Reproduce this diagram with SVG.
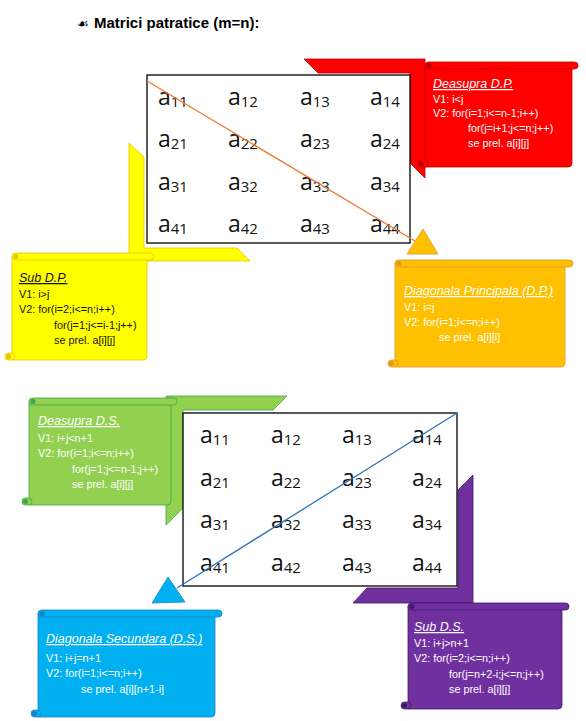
<svg xmlns="http://www.w3.org/2000/svg" width="586" height="721" viewBox="0 0 586 721">
<style>
.m{font-family:"Open Sans","Liberation Sans",sans-serif;font-size:23px;fill:#111}
.s{font-size:15px}
.t{font-family:"Liberation Sans",Arial,sans-serif;font-size:12.5px;font-style:italic;text-decoration:underline}
.b{font-family:"Liberation Sans",Arial,sans-serif;font-size:10.8px}
.w{fill:#fff}
.k{fill:#111}
.grid{fill:#fff;stroke:#000;stroke-width:1.3}
</style>
<rect width="586" height="721" fill="#fff"/>
<text x="77" y="28" font-family="DejaVu Sans,sans-serif" font-size="13" fill="#000">☙</text>
<text x="94" y="28" font-family="Liberation Sans,Arial,sans-serif" font-size="15" font-weight="bold" fill="#000">Matrici patratice (m=n):</text>

<!-- Red: Deasupra D.P. -->
<g id="red">
<polygon points="304,59 425,59 425,178 410,163 410,73 318,73" fill="#ff0000" stroke="#c00000" stroke-width="0.8"/>
<path d="M425,65 H572 V163 Q572,167 568,167 H425 Z" fill="#ff0000" stroke="#c00000" stroke-width="0.8"/>
<rect x="425" y="62" width="153" height="7" rx="3.5" fill="#ff0000" stroke="#c00000" stroke-width="0.8"/>
<circle cx="429" cy="65.5" r="2.5" fill="#c00000"/>
<rect x="418" y="160" width="10" height="7" rx="3.5" fill="#ff0000" stroke="#c00000" stroke-width="0.8"/>
<circle cx="421.5" cy="163.5" r="2.5" fill="#c00000"/>
<text class="t w" x="433" y="88">Deasupra D.P.</text>
<text class="b w" x="433" y="103">V1: i&lt;j</text>
<text class="b w" x="433" y="117">V2: for(i=1;i&lt;=n-1;i++)</text>
<text class="b w" x="468" y="132">for(j=i+1;j&lt;=n;j++)</text>
<text class="b w" x="468" y="147">se prel.  a[i][j]</text>
</g>

<!-- Yellow: Sub D.P. -->
<g id="yellow">
<polygon points="129,143 144,157 144,248 237,248 250,261 129,261" fill="#ffff00" stroke="#e8c000" stroke-width="0.8"/>
<path d="M12,256 H147 V356 Q147,360 143,360 H12 Z" fill="#ffff00" stroke="#e8c000" stroke-width="0.8"/>
<rect x="12" y="253" width="142" height="7" rx="3.5" fill="#ffff00" stroke="#e8c000" stroke-width="0.8"/>
<circle cx="16" cy="256.5" r="2.5" fill="#e8c000"/>
<rect x="5" y="353" width="10" height="7" rx="3.5" fill="#ffff00" stroke="#e8c000" stroke-width="0.8"/>
<circle cx="8.5" cy="356.5" r="2.5" fill="#e8c000"/>
<text class="t k" x="19" y="282">Sub D.P.</text>
<text class="b k" x="19" y="298">V1: i&gt;j</text>
<text class="b k" x="19" y="313">V2: for(i=2;i&lt;=n;i++)</text>
<text class="b k" x="54" y="329">for(j=1;j&lt;=i-1;j++)</text>
<text class="b k" x="54" y="344">se prel.  a[i][j]</text>
</g>

<!-- Matrix 1 -->
<g id="matrix1">
<rect class="grid" x="147" y="75" width="263" height="168"/>
<text class="m" x="158" y="105">a<tspan class="s" dy="2">11</tspan></text>
<text class="m" x="228" y="105">a<tspan class="s" dy="2">12</tspan></text>
<text class="m" x="300" y="105">a<tspan class="s" dy="2">13</tspan></text>
<text class="m" x="370" y="105">a<tspan class="s" dy="2">14</tspan></text>
<text class="m" x="158" y="147">a<tspan class="s" dy="2">21</tspan></text>
<text class="m" x="228" y="147">a<tspan class="s" dy="2">22</tspan></text>
<text class="m" x="300" y="147">a<tspan class="s" dy="2">23</tspan></text>
<text class="m" x="370" y="147">a<tspan class="s" dy="2">24</tspan></text>
<text class="m" x="158" y="190">a<tspan class="s" dy="2">31</tspan></text>
<text class="m" x="228" y="190">a<tspan class="s" dy="2">32</tspan></text>
<text class="m" x="300" y="190">a<tspan class="s" dy="2">33</tspan></text>
<text class="m" x="370" y="190">a<tspan class="s" dy="2">34</tspan></text>
<text class="m" x="158" y="232">a<tspan class="s" dy="2">41</tspan></text>
<text class="m" x="228" y="232">a<tspan class="s" dy="2">42</tspan></text>
<text class="m" x="300" y="232">a<tspan class="s" dy="2">43</tspan></text>
<text class="m" x="370" y="232">a<tspan class="s" dy="2">44</tspan></text>
</g>

<!-- Orange: Diagonala Principala -->
<g id="orange">
<path d="M395,263 H565 V363 Q565,367 561,367 H395 Z" fill="#ffc000" stroke="#e0962a" stroke-width="0.8"/>
<rect x="395" y="260" width="178" height="7" rx="3.5" fill="#ffc000" stroke="#e0962a" stroke-width="0.8"/>
<circle cx="399" cy="263.5" r="2.5" fill="#e0962a"/>
<rect x="388" y="360" width="10" height="7" rx="3.5" fill="#ffc000" stroke="#e0962a" stroke-width="0.8"/>
<circle cx="391.5" cy="363.5" r="2.5" fill="#e0962a"/>
<text class="t w" x="404" y="295">Diagonala Principala (D.P.)</text>
<text class="b w" x="404" y="311">V1: i=j</text>
<text class="b w" x="404" y="326">V2: for(i=1;i&lt;=n;i++)</text>
<text class="b w" x="439" y="341">se prel.  a[i][i]</text>
</g>

<!-- Green: Deasupra D.S. -->
<g id="green">
<polygon points="166,396 287,396 273,410 183,410 183,508 166,525" fill="#92d050" stroke="#3ba64a" stroke-width="0.8"/>
<path d="M29,401 H171 V501 Q171,505 167,505 H29 Z" fill="#92d050" stroke="#3ba64a" stroke-width="0.8"/>
<rect x="29" y="398" width="148" height="7" rx="3.5" fill="#92d050" stroke="#3ba64a" stroke-width="0.8"/>
<circle cx="33" cy="401.5" r="2.5" fill="#3ba64a"/>
<rect x="22" y="498" width="10" height="7" rx="3.5" fill="#92d050" stroke="#3ba64a" stroke-width="0.8"/>
<circle cx="25.5" cy="501.5" r="2.5" fill="#3ba64a"/>
<text class="t w" x="38" y="425">Deasupra D.S.</text>
<text class="b w" x="38" y="442">V1: i+j&lt;n+1</text>
<text class="b w" x="38" y="457">V2: for(i=1;i&lt;=n;i++)</text>
<text class="b w" x="72" y="473">for(j=1;j&lt;=n-1;j++)</text>
<text class="b w" x="72" y="488">se prel.  a[i][j]</text>
</g>

<!-- Purple: Sub D.S. -->
<g id="purple">
<polygon points="458,490 473,475 473,603 353,603 367,588 458,588" fill="#7030a0" stroke="#3d1a66" stroke-width="0.8"/>
<path d="M408,606 H562 V705 Q562,709 558,709 H408 Z" fill="#7030a0" stroke="#3d1a66" stroke-width="0.8"/>
<rect x="408" y="603" width="161" height="7" rx="3.5" fill="#7030a0" stroke="#3d1a66" stroke-width="0.8"/>
<circle cx="412" cy="606.5" r="2.5" fill="#3d1a66"/>
<rect x="401" y="702" width="10" height="7" rx="3.5" fill="#7030a0" stroke="#3d1a66" stroke-width="0.8"/>
<circle cx="404.5" cy="705.5" r="2.5" fill="#3d1a66"/>
<text class="t w" x="414" y="631">Sub D.S.</text>
<text class="b w" x="414" y="647">V1: i+j&gt;n+1</text>
<text class="b w" x="414" y="662">V2: for(i=2;i&lt;=n;i++)</text>
<text class="b w" x="449" y="678">for(j=n+2-i;j&lt;=n;j++)</text>
<text class="b w" x="449" y="693">se prel.  a[i][j]</text>
</g>

<!-- Matrix 2 -->
<g id="matrix2">
<rect class="grid" x="183" y="413" width="274" height="173"/>
<text class="m" x="200" y="443">a<tspan class="s" dy="2">11</tspan></text>
<text class="m" x="271" y="443">a<tspan class="s" dy="2">12</tspan></text>
<text class="m" x="342" y="443">a<tspan class="s" dy="2">13</tspan></text>
<text class="m" x="412" y="443">a<tspan class="s" dy="2">14</tspan></text>
<text class="m" x="200" y="486">a<tspan class="s" dy="2">21</tspan></text>
<text class="m" x="271" y="486">a<tspan class="s" dy="2">22</tspan></text>
<text class="m" x="342" y="486">a<tspan class="s" dy="2">23</tspan></text>
<text class="m" x="412" y="486">a<tspan class="s" dy="2">24</tspan></text>
<text class="m" x="200" y="528">a<tspan class="s" dy="2">31</tspan></text>
<text class="m" x="271" y="528">a<tspan class="s" dy="2">32</tspan></text>
<text class="m" x="342" y="528">a<tspan class="s" dy="2">33</tspan></text>
<text class="m" x="412" y="528">a<tspan class="s" dy="2">34</tspan></text>
<text class="m" x="200" y="571">a<tspan class="s" dy="2">41</tspan></text>
<text class="m" x="271" y="571">a<tspan class="s" dy="2">42</tspan></text>
<text class="m" x="342" y="571">a<tspan class="s" dy="2">43</tspan></text>
<text class="m" x="412" y="571">a<tspan class="s" dy="2">44</tspan></text>
</g>

<!-- Blue: Diagonala Secundara -->
<g id="blue">
<path d="M38,613 H215 V713 Q215,717 211,717 H38 Z" fill="#00b0f0" stroke="#1a80c4" stroke-width="0.8"/>
<rect x="38" y="610" width="184" height="7" rx="3.5" fill="#00b0f0" stroke="#1a80c4" stroke-width="0.8"/>
<circle cx="42" cy="613.5" r="2.5" fill="#1a80c4"/>
<rect x="31" y="710" width="10" height="7" rx="3.5" fill="#00b0f0" stroke="#1a80c4" stroke-width="0.8"/>
<circle cx="34.5" cy="713.5" r="2.5" fill="#1a80c4"/>
<text class="t w" x="46" y="643">Diagonala Secundara (D.S.)</text>
<text class="b w" x="46" y="662">V1: i+j=n+1</text>
<text class="b w" x="46" y="677">V2: for(i=1;i&lt;=n;i++)</text>
<text class="b w" x="81" y="693">se prel.  a[i][n+1-i]</text>
</g>

<!-- Connectors: diagonals with triangle heads -->
<g id="connectors">
<line x1="147" y1="81" x2="415" y2="241" stroke="#ed7d31" stroke-width="1.3"/>
<polygon points="423,229 407,254 438,254" fill="#ffc000" stroke="#e0962a" stroke-width="0.8"/>
<line x1="457" y1="413" x2="177" y2="588" stroke="#2e75b6" stroke-width="1.3"/>
<polygon points="168,577 152,603 185,602" fill="#00b0f0" stroke="#1a80c4" stroke-width="0.8"/>
</g>
</svg>
